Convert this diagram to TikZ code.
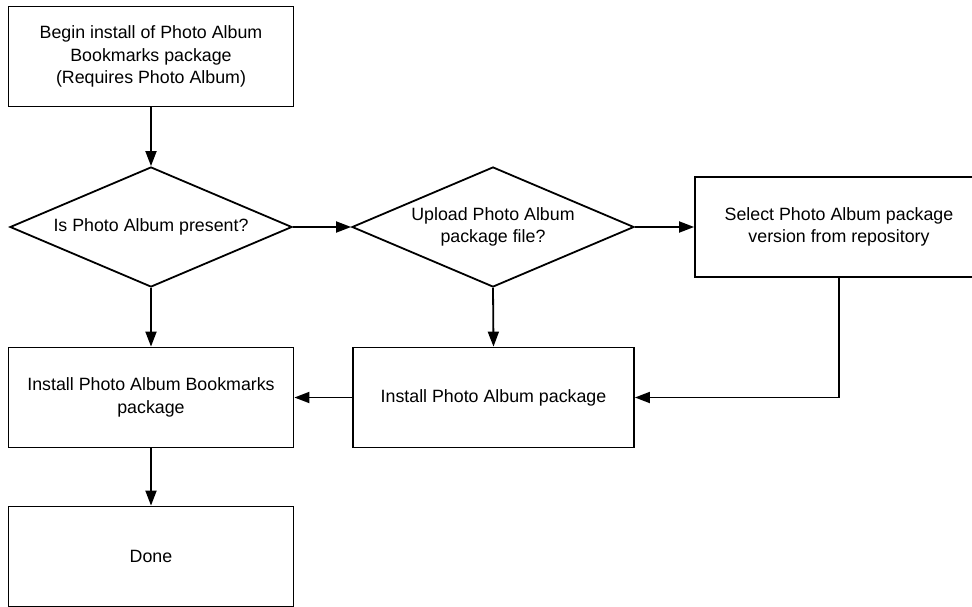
\documentclass[tikz,border=0pt]{standalone}
\usepackage{fontspec}
\setmainfont{Liberation Sans}
\usetikzlibrary{shapes.geometric,arrows.meta}
\begin{document}
\begin{tikzpicture}[x=1pt,y=-1pt,
  every node/.style={font=\fontsize{17.8}{22.5}\selectfont, align=center},
  procbox/.style={draw, line width=1.8pt, rectangle, inner sep=0pt,
    minimum width=285pt, minimum height=100pt},
  decision/.style={draw, line width=1.8pt, diamond, inner sep=0pt,
    minimum width=282pt, minimum height=120pt, aspect=2.35},
  flow/.style={line width=1.8pt, -{Triangle[length=15pt,width=11pt]}}]
\useasboundingbox (0,0) rectangle (972,607);
\clip (0,0) rectangle (972,607);

% process steps
\node[procbox] (begin) at (151,56.5) {Begin install of Photo Album\\Bookmarks package\\(Requires Photo Album)};
\node[decision] (present) at (151,227) {Is Photo Album present?};
\node[decision] (upload) at (493,227) {Upload Photo Album\\package file?};
\node[procbox, minimum width=288pt] (select) at (839,227) {Select Photo Album package\\version from repository};
\node[procbox] (installbm) at (151,397.5) {Install Photo Album Bookmarks\\package};
\node[procbox, minimum width=281pt] (installpa) at (493.5,397.5) {Install Photo Album package};
\node[procbox] (done) at (151,556.5) {Done};

% connectors
\draw[flow] (begin) -- (present);
\draw[flow] (present.east) -- (upload.west);
\draw[flow] (upload.east) -- (select.west);
\draw[flow] (present.south) -- (installbm.north);
\draw[flow] (upload.south) -- (installpa.north);
\draw[flow] (select.south) |- (installpa.east);
\draw[flow] (installpa.west) -- (installbm.east);
\draw[flow] (installbm) -- (done);
\end{tikzpicture}
\end{document}
